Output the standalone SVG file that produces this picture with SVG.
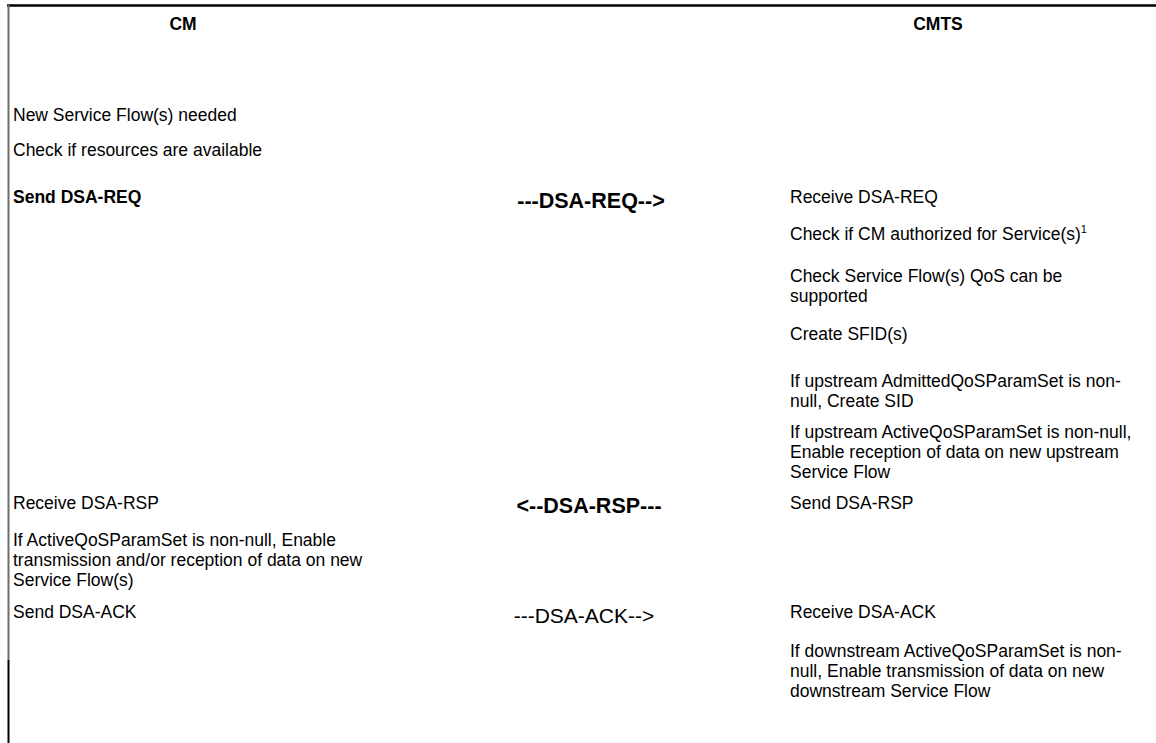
<svg xmlns="http://www.w3.org/2000/svg" width="1156" height="743" viewBox="0 0 1156 743">
<style>
text{font-family:"Liberation Sans",Arial,sans-serif;fill:#000;}
.t{font-size:17.5px;}
.h{font-size:17.5px;font-weight:bold;text-anchor:middle;}
.b{font-weight:bold;}
.m{font-size:21px;text-anchor:middle;}
.mb{font-size:21.5px;font-weight:bold;text-anchor:middle;}
.sup{font-size:11px;}
</style>
<rect width="1156" height="743" fill="#fff"/>
<g id="table-frame">
<line x1="7" y1="5.5" x2="1156" y2="5.5" stroke="#000" stroke-width="2.5"/>
<line x1="8.5" y1="5" x2="8.5" y2="660" stroke="#6e6e6e" stroke-width="2"/>
<line x1="8.5" y1="660" x2="8.5" y2="743" stroke="#000" stroke-width="2"/>
</g>
<g id="cm">
<text class="h" x="183" y="30">CM</text>
<text class="t" x="13" y="121">New Service Flow(s) needed</text>
<text class="t" x="13" y="156">Check if resources are available</text>
<text class="t b" x="13" y="203">Send DSA-REQ</text>
<text class="t" x="13" y="509">Receive DSA-RSP</text>
<text class="t" x="13" y="546">If ActiveQoSParamSet is non-null, Enable</text>
<text class="t" x="13" y="566">transmission and/or reception of data on new</text>
<text class="t" x="13" y="586">Service Flow(s)</text>
<text class="t" x="13" y="618">Send DSA-ACK</text>
</g>
<g id="cmts">
<text class="h" x="938" y="30">CMTS</text>
<text class="t" x="790" y="203">Receive DSA-REQ</text>
<text class="t" x="790" y="240">Check if CM authorized for Service(s)<tspan class="sup" dy="-7">1</tspan></text>
<text class="t" x="790" y="282">Check Service Flow(s) QoS can be</text>
<text class="t" x="790" y="302">supported</text>
<text class="t" x="790" y="340">Create SFID(s)</text>
<text class="t" x="790" y="387">If upstream AdmittedQoSParamSet is non-</text>
<text class="t" x="790" y="407">null, Create SID</text>
<text class="t" x="790" y="438">If upstream ActiveQoSParamSet is non-null,</text>
<text class="t" x="790" y="458">Enable reception of data on new upstream</text>
<text class="t" x="790" y="478">Service Flow</text>
<text class="t" x="790" y="509">Send DSA-RSP</text>
<text class="t" x="790" y="618">Receive DSA-ACK</text>
<text class="t" x="790" y="657">If downstream ActiveQoSParamSet is non-</text>
<text class="t" x="790" y="677">null, Enable transmission of data on new</text>
<text class="t" x="790" y="697">downstream Service Flow</text>
</g>
<g id="connectors">
<text class="mb" x="591" y="208">---DSA-REQ--&gt;</text>
<text class="mb" x="589" y="513">&lt;--DSA-RSP---</text>
<text class="m" x="584" y="623">---DSA-ACK--&gt;</text>
</g>
</svg>
